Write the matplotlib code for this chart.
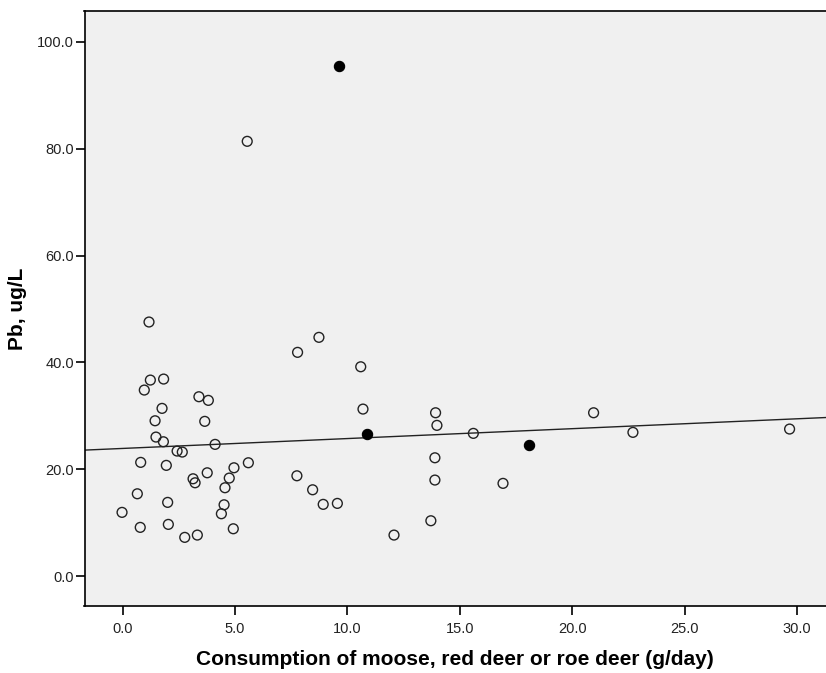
import matplotlib
matplotlib.use("Agg")
import matplotlib.pyplot as plt
import numpy as np

# Open-circle observations
open_x = [5.54, 1.17, 1.23, 1.82, 0.96, 3.39, 3.81, 1.75, 1.44, 3.65,
          1.48, 1.81, 2.42, 2.65, 4.11, 0.80, 1.94, 3.13, 3.22, 3.76,
          4.95, 5.59, 4.74, 4.55, 0.65, 2.00, -0.03, 4.51, 4.39, 0.78,
          2.03, 2.76, 3.32, 4.92, 8.73, 7.78, 10.59, 10.69, 13.92, 13.98,
          13.89, 7.75, 13.89, 8.45, 8.92, 9.55, 13.71, 12.07, 15.60, 20.95,
          22.70, 16.92, 29.67]
open_y = [81.4, 47.57, 36.70, 36.89, 34.83, 33.58, 32.90, 31.40, 29.08, 28.97,
          26.03, 25.15, 23.41, 23.22, 24.66, 21.29, 20.73, 18.22, 17.47, 19.34,
          20.28, 21.22, 18.35, 16.54, 15.41, 13.80, 11.93, 13.35, 11.67, 9.12,
          9.68, 7.25, 7.68, 8.86, 44.70, 41.89, 39.19, 31.27, 30.58, 28.22,
          22.15, 18.78, 17.98, 16.16, 13.43, 13.61, 10.36, 7.68, 26.72, 30.58,
          26.91, 17.36, 27.53]

# Filled-circle observations
filled_x = [9.62, 10.87, 18.09]
filled_y = [95.5, 26.65, 24.48]

# Fit line
intercept = 23.9
slope = 0.185

x_ticks = [0, 5, 10, 15, 20, 25, 30]
y_ticks = [0, 20, 40, 60, 80, 100]
x_label = "Consumption of moose, red deer or roe deer (g/day)"
y_label = "Pb, ug/L"

plt.rcParams['font.family'] = ['Liberation Sans', 'DejaVu Sans']

fig = plt.figure(figsize=(8.26, 6.73), dpi=100)
ax = fig.add_axes([84.5/826, 1-606/673, 1-84.5/826, (606-11)/673])
ax.set_facecolor('#f0f0f0')

xmin, xmax = -1.70, 31.29
ymin, ymax = -5.6, 105.8
ax.set_xlim(xmin, xmax)
ax.set_ylim(ymin, ymax)

xl = np.array([xmin, xmax])
ax.plot(xl, intercept + slope*xl, color='#222222', lw=1.0, zorder=2)

ax.scatter(open_x, open_y, s=50, facecolors='none', edgecolors='#222222',
           linewidths=1.0, zorder=3)
ax.scatter(filled_x, filled_y, s=55, facecolors='black', edgecolors='black',
           linewidths=0.8, zorder=4)

ax.set_xticks(x_ticks)
ax.set_xticklabels([f"{v:.1f}" for v in x_ticks])
ax.set_yticks(y_ticks)
ax.set_yticklabels([f"{v:.1f}" for v in y_ticks])

for s in ['left', 'bottom', 'top']:
    ax.spines[s].set_linewidth(1.2)
    ax.spines[s].set_color('black')
ax.spines['right'].set_visible(False)

ax.tick_params(axis='both', which='major', direction='out', length=6.5,
               width=1.2, labelsize=10.5, colors='black', labelcolor='#222222')
ax.tick_params(axis='x', pad=5)
ax.tick_params(axis='y', pad=1)

ax.set_xlabel(x_label, fontsize=15, fontweight='bold', labelpad=10)
ax.set_ylabel(y_label, fontsize=15, fontweight='bold', labelpad=7)

fig.savefig("out.png", dpi=100, facecolor='white')
